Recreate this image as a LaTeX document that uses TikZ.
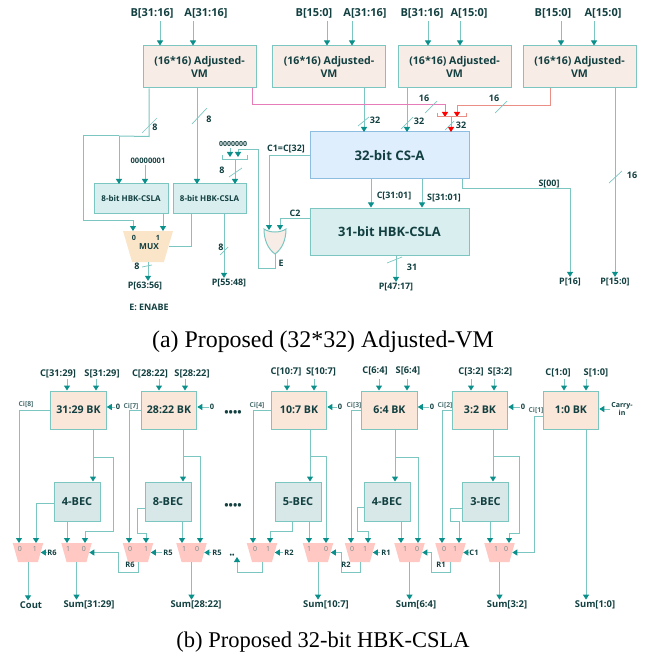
\documentclass[tikz,border=0pt]{standalone}
\usepackage{fontspec}
\setmainfont{Open Sans}
\newfontfamily\capfont{Liberation Serif}
\usetikzlibrary{arrows.meta, calc, shapes.geometric}
\definecolor{wireteal}{HTML}{7CC6C1}
\definecolor{tipteal}{HTML}{0B8F8A}
\definecolor{inkteal}{HTML}{123F40}
\definecolor{vmfill}{HTML}{F8ECE6}
\definecolor{bkfill}{HTML}{FBE6DA}
\definecolor{becfill}{HTML}{D8E8E8}
\definecolor{hbkfill}{HTML}{D9EEEF}
\definecolor{csfill}{HTML}{DEEEFD}
\definecolor{csline}{HTML}{8DBDE0}
\definecolor{muxfill}{HTML}{FBE5C8}
\definecolor{pinkfill}{HTML}{FFC8C3}
\definecolor{pinkwire}{HTML}{E77DB8}
\definecolor{redwire}{HTML}{E98F85}
\newcommand{\fsz}[1]{\fontsize{#1}{#1}\bfseries\selectfont}

\begin{document}
\begin{tikzpicture}[x=1pt, y=-1pt,
    wire/.style={draw=wireteal, line width=1pt},
    conn/.style={wire, -{Triangle[length=5pt,width=6pt,color=tipteal]}},
    redconn/.style={draw=redwire, line width=1pt, -{Triangle[length=5pt,width=6pt,color=red]}},
    busmark/.style={draw=wireteal, line width=0.7pt},
    lbl/.style={inner sep=1pt, text=inkteal, font=\fsz{8.9}},
    inlbl/.style={lbl, font=\fsz{11}},
    bottomlbl/.style={lbl, font=\fsz{9.4}},
    buslbl/.style={lbl, font=\fsz{9}},
    cilbl/.style={lbl, text=inkteal!75, font=\fsz{6.8}},
    bitlbl/.style={inner sep=0pt, text=inkteal!60, font=\fontsize{7}{7}\selectfont},
    vmbox/.style={draw=wireteal, fill=vmfill, line width=1pt, minimum width=113pt, minimum height=42pt,
      inner sep=0pt, text=inkteal, align=center, font=\fsz{10.6}},
    csbox/.style={draw=csline, fill=csfill, line width=1pt, minimum width=159pt, minimum height=47pt,
      text=inkteal, font=\fsz{13.2}},
    hbkbox/.style={draw=wireteal, fill=hbkfill, line width=1pt, inner sep=0pt, text=inkteal},
    bkbox/.style={draw=wireteal, fill=bkfill, line width=1pt, minimum width=55.5pt, minimum height=38pt,
      inner sep=0pt, text=inkteal, font=\fsz{10.6}},
    becbox/.style={draw=wireteal, fill=becfill, line width=1pt, minimum width=46pt, minimum height=39pt,
      inner sep=0pt, text=inkteal, font=\fsz{11}},
    bigmux/.style={trapezium, trapezium stretches=true, shape border rotate=180, trapezium angle=74,
      fill=muxfill, minimum width=50pt, minimum height=31pt, inner sep=1pt},
    smallmux/.style={trapezium, trapezium stretches=true, shape border rotate=180, trapezium angle=75,
      fill=pinkfill, minimum width=30.5pt, minimum height=19pt, inner sep=1pt}]
  \useasboundingbox (0,0) rectangle (644,660);

  % ---- (a) top row of multipliers
  \foreach \i/\x in {1/199.5, 2/329, 3/454.5, 4/579.5}
    \node[vmbox] (vm\i) at (\x,67) {(16*16) Adjusted-\\[1.5pt]VM};
  \foreach \i/\name/\x/\t/\px in {1/b/152/B[31:16]/160, 1/a/206/A[31:16]/193,
                                  2/b/314/B[15:0]/327, 2/a/365/A[31:16]/352,
                                  3/b/422/B[31:16]/428, 3/a/469/A[15:0]/460,
                                  4/b/553/B[15:0]/561, 4/a/603/A[15:0]/594} {
    \node[inlbl] (in\name\i) at (\x,13) {\t};
    \coordinate (pin\name\i) at (\px,21);
    \draw[conn] (pin\name\i) -- (pin\name\i |- vm\i.north);
  }

  % ---- (a) adders
  \node[csbox] (csa) at (389.5,155.5) {32-bit CS-A};
  \node[hbkbox, minimum width=159pt, minimum height=47pt, font=\fsz{12.9}] (hbk31) at (389.5,231.5) {31-bit HBK-CSLA};
  \node[hbkbox, minimum width=74pt, minimum height=29pt, font=\fsz{8}] (hbk8a) at (131,198.5) {8-bit HBK-CSLA};
  \node[hbkbox, minimum width=73pt, minimum height=29pt, font=\fsz{8}] (hbk8b) at (209.5,198.5) {8-bit HBK-CSLA};
  \node[bigmux] (mux) at (148,246.5) {};
  \node[lbl, font=\fsz{8.3}] (muxname) at (149,246.5) {MUX};
  \node[lbl, font=\fsz{7.2}] (muxzero) at (134,238) {0};
  \node[lbl, font=\fsz{7.2}] (muxone) at (158,238) {1};

  % or gate, E goes back to the constant
  \draw[draw=wireteal, fill=vmfill, line width=1pt] (264,229) .. controls (270,233) and (280,233) .. (286,229)
    .. controls (286,240) and (282,249) .. (275,254) .. controls (268,249) and (264,240) .. (264,229) -- cycle;
  \coordinate (orA) at (269,230);
  \coordinate (orB) at (280,230);
  \coordinate (orOut) at (275,254);

  % ---- (a) pins
  \coordinate (csP) at (364,132);
  \coordinate (csQ) at (407,132);
  \coordinate (csR) at (451,132);
  \coordinate (redA) at (445,117);
  \coordinate (redB) at (457,117);
  \coordinate (redC) at (451,117);
  \coordinate (j8) at (119,136);
  \coordinate (hbA) at (119,184);
  \coordinate (hbB) at (145,184);
  \coordinate (hbC) at (197,184);
  \coordinate (hbD) at (235,184);
  \coordinate (muxA) at (133,231);
  \coordinate (muxB) at (163,231);
  \coordinate (zeroA) at (230,157);
  \coordinate (zeroB) at (238,157);
  \coordinate (zeroC) at (238,150);
  \coordinate (brk) at (235,160);

  % ---- (a) connectors
  \draw[wire] ([xshift=-50.5pt]vm1.south) -- ++(0,48) -- (j8);
  \draw[conn] (j8) -- ++(-36,0) -- ++(0,84) -| (muxA);
  \draw[conn] (j8) -- (hbA);
  \draw[conn] (vm1.south -| hbC) -- (hbC);
  \draw[conn] (vm2.south -| csP) -- (csP);
  \draw[conn] (vm3.south -| csQ) -- (csQ);
  \draw[redconn, draw=pinkwire] ([xshift=52.5pt]vm1.south) -- ++(0,16) -| (redA);
  \draw[redconn] ([xshift=-29.5pt]vm4.south) -- ++(0,17) -| (redB);
  \draw[draw=redwire, line width=1pt] (437,113) |- (466,117) -- (466,113);
  \draw[redconn] (redC) -- (csR);
  \node[lbl] (p150) at (615,282) {P[15:0]};
  \draw[conn] ([xshift=35.5pt]vm4.south) -- (p150.north);

  \draw[conn] ([xshift=-18.5pt]csa.south) -- ([xshift=-18.5pt]hbk31.north);
  \draw[conn] ([xshift=32.5pt]csa.south) -- ([xshift=32.5pt]hbk31.north);
  \node[lbl] (c3101) at (394,196) {C[31:01]};
  \node[lbl] (s3101) at (444,198) {S[31:01]};
  \node[lbl] (p16) at (570,282) {P[16]};
  \draw[conn] ([xshift=72.5pt]csa.south) -- ++(0,9) -| (p16.north);
  \node[lbl] (s00) at (549,184) {S[00]};
  \node[lbl] (p4717) at (396,287) {P[47:17]};
  \draw[conn] ([xshift=6.5pt]hbk31.south) -- (p4717.north);
  \draw[conn] (csa.west) -| (orA);
  \draw[conn] ([yshift=13.5pt]hbk31.west) -| (orB);
  \node[lbl] (c1lbl) at (286,149) {C1=C[32]};
  \node[lbl] (c2lbl) at (295,213) {C2};
  \node[lbl] (elbl) at (281,263) {E};

  \node[lbl, font=\fsz{7.6}] (one8) at (148,161) {00000001};
  \draw[conn] (one8.south -| hbB) -- (hbB);
  \node[lbl, font=\fsz{7}] (zero7) at (233,144) {0000000};
  \draw[conn] (zero7.south -| zeroA) -- (zeroA);
  \draw[conn] (orOut) -- ++(0,14) -- ++(-17,0) |- (zeroC) -- (zeroB);
  \draw[wire] (222,155) |- (247,160) -- (247,155);
  \draw[conn] (brk) -- (hbD);

  \draw[conn] (hbk8a.south -| muxB) -- (muxB);
  \draw[wire] ([xshift=-18.5pt]hbk8b.south) |- (mux.east);
  \node[lbl] (p6356) at (145,286) {P[63:56]};
  \draw[conn] (mux.south) -- (p6356.north -| mux.south);
  \node[lbl] (p5548) at (229,283) {P[55:48]};
  \draw[conn] ([xshift=14.5pt]hbk8b.south) -- ([xshift=14.5pt]hbk8b.south |- p5548.north);
  \node[lbl] (enable) at (149,307) {E: ENABE};

  % bus marks + widths
  \draw[busmark] (142,133) -- (157,118);
  \node[buslbl] (w8a) at (155,127) {8};
  \draw[busmark] (192,124) -- (207,108);
  \node[buslbl] (w8b) at (209,119) {8};
  \draw[busmark] (425,113) -- (437,101);
  \node[buslbl] (w16a) at (424,98) {16};
  \draw[busmark] (495,113) -- (507,101);
  \node[buslbl] (w16b) at (494,98) {16};
  \draw[busmark] (358,126) -- (369,117);
  \node[buslbl] (w32a) at (375,120) {32};
  \draw[busmark] (401,129) -- (413,117);
  \node[buslbl] (w32b) at (419,121) {32};
  \draw[busmark] (445,130) -- (454,121);
  \node[buslbl] (w32c) at (461,125) {32};
  \draw[busmark] (609,183) -- (622,171);
  \node[buslbl] (w16c) at (632,175) {16};
  \draw[busmark] (387,263) -- (402,257);
  \node[buslbl] (w31) at (412,267) {31};
  \draw[busmark] (229,177) -- (242,168);
  \node[buslbl] (w8c) at (222,170) {8};
  \draw[busmark] (220,255) -- (228,247);
  \node[buslbl] (w8d) at (221,247) {8};
  \draw[busmark] (142,267) -- (152,265);
  \node[buslbl] (w8e) at (137,266) {8};

  \node[inner sep=0pt, font=\capfont\fontsize{23.9}{23.9}\selectfont] (capa) at (323,342) {(a) Proposed (32*32) Adjusted-VM};

  % ---- (b) carry blocks
  \foreach \i/\x/\t in {1/78.5/31:29, 2/169/28:22, 3/299/10:7, 4/389.5/6:4, 5/480/3:2, 6/571/1:0}
    \node[bkbox] (bk\i) at (\x,410) {\t\ BK};
  \foreach \i/\x/\t in {1/77/4, 2/168/8, 3/298/5, 4/387/4, 5/485.5/3}
    \node[becbox] (bec\i) at (\x,501.5) {\t-BEC};
  \foreach \i/\x in {1/28, 2/76.5, 3/138, 4/191.5, 5/262, 6/318, 7/360, 8/409.5, 9/450.5, 10/499.5}
    \node[smallmux] (mx\i) at (\x,552.5) {};
  \foreach \i/\l/\u/\m/\v in {1/0/20/1/35, 2/1/68/0/84, 3/0/130/1/146, 4/1/184/0/197, 5/0/255/1/268,
                              6/1/309/0/326, 7/0/352/1/365, 8/1/405/0/417, 9/0/444/1/455, 10/1/496/0/506} {
    \node[bitlbl] (bita\i) at (\u,549) {\l};
    \node[bitlbl] (bitb\i) at (\v,549) {\m};
  }
  % mux pins
  \foreach \i/\u/\v in {1/19/36, 2/67/85, 3/129/146, 4/182/200, 5/253/270, 6/309/326, 7/351/368,
                        8/401/418, 9/442/459, 10/490/509} {
    \coordinate (mxa\i) at (\u,543);
    \coordinate (mxb\i) at (\v,543);
  }

  % inputs C and S
  \foreach \i/\cl/\sl/\cx/\sx/\ct/\st/\ly in {1/58/102/67/96/C[31:29]/S[31:29]/374, 2/150/192/159/185/C[28:22]/S[28:22]/374,
      3/286/321/287/314/C[10:7]/S[10:7]/372, 4/375/408/379/407/C[6:4]/S[6:4]/371,
      5/471/500/471/494/C[3:2]/S[3:2]/372, 6/558/596/564/586/C[1:0]/S[1:0]/373} {
    \node[lbl, font=\fsz{9.3}] (lc\i) at (\cl,\ly) {\ct};
    \node[lbl, font=\fsz{9.3}] (ls\i) at (\sl,\ly) {\st};
    \coordinate (pc\i) at (\cx,379);
    \coordinate (ps\i) at (\sx,379);
    \draw[conn] (pc\i) -- (pc\i |- bk\i.north);
    \draw[conn] (ps\i) -- (ps\i |- bk\i.north);
  }

  % the constant 0 inputs
  \foreach \i/\x in {1/118, 2/212, 3/340, 4/432, 5/523} {
    \node[lbl, font=\fsz{7.5}] (nil\i) at (\x,407) {0};
    \draw[conn] (nil\i.west) -- (nil\i.west -| bk\i.east);
  }
  \node[lbl, font=\fsz{7}, align=center] (cin) at (622,409) {Carry-\\[0.5pt]in};
  \draw[conn] (cin.west) -- (cin.west -| bk6.east);

  % carries to the left muxes
  \foreach \i/\m/\t/\x/\y in {1/1/8/26/404, 2/3/7/131/406, 3/5/4/257/405, 4/7/3/354/405, 5/9/2/445/405} {
    \node[cilbl] (ci\i) at (\x,\y) {Ci[\t]};
    \draw[conn] (bk\i.west) -| (mxa\m);
  }
  \node[cilbl] (ci6) at (536,410) {Ci[1]};
  \draw[conn] ([yshift=-6pt]bk6.west) -- ++(-8,0) |- (mx10.east);

  % block -> bec, and round it to the mux
  \foreach \i/\x/\y in {1/93/457, 2/183/456, 3/310/456, 4/395/457, 5/493/456} {
    \coordinate (jn\i) at (\x,\y);
    \draw[wire] (jn\i |- bk\i.south) -- (jn\i);
    \draw[conn] (jn\i) -- (jn\i |- bec\i.north);
  }
  \draw[conn] (jn1) -- ++(20,0) -- ++(0,74) -| (mxb2);
  \draw[conn] (jn2) -| (mxb4);
  \draw[conn] (jn3) -| (mxb6);
  \draw[conn] (jn4) -| (mxb8);
  \draw[conn] (jn5) -- ++(26,0) -- ++(0,77) -| (mxb10);

  % bec -> muxes
  \draw[conn] ([yshift=-1.5pt]bec1.west) -| (mxb1);
  \draw[conn] (mxa2 |- bec1.south) -- (mxa2);
  \draw[conn] ([yshift=-6.5pt]bec2.west) -- ++(-7,0) -- ++(0,25) -| (mxb3);
  \draw[conn] (mxa4 |- bec2.south) -- (mxa4);
  \draw[conn] ([xshift=-6pt]bec3.south) -- ++(0,10) -| (mxb5);
  \draw[conn] (mxa6 |- bec3.south) -- (mxa6);
  \draw[conn] ([yshift=-5.5pt]bec4.west) -- ++(-6,0) -- ++(0,24) -| (mxb7);
  \draw[conn] (mxa8 |- bec4.south) -- (mxa8);
  \draw[conn] ([yshift=-6.5pt]bec5.west) -- ++(-12,0) -- ++(0,13) -| (mxb9);
  \draw[conn] (mxa10 |- bec5.south) -- (mxa10);

  % mux select lines
  \foreach \i/\t/\x in {1/R6/52, 3/R5/168, 4/R5/217, 5/R2/289, 7/R1/386, 9/C1/474} {
    \node[lbl, font=\fsz{7.5}] (sel\i) at (\x,552.5) {\t};
    \draw[conn] (sel\i.west) -- (mx\i.east);
  }
  \draw[conn] (mx3.south) -- ++(0,10) -- ++(-20,0) |- (mx2.east);
  \draw[conn] (mx7.south) -- ++(0,10) -- ++(-19,0) |- (mx6.east);
  \draw[conn] (mx9.south) -- ++(0,10) -- ++(-19.5,0) |- (mx8.east);
  \coordinate (dotin) at (237,557);
  \draw[conn] (mx5.south) -- ++(0,10) -| (dotin);
  \foreach \n/\t/\x in {a/R6/130, b/R2/346, c/R1/441}
    \node[lbl, font=\fsz{7.5}] (ret\n) at (\x,565) {\t};
  \node[lbl, font=\fsz{6.5}] (stars) at (232,556) {••};

  % outputs
  \foreach \i/\m/\t/\x in {1/2/Sum[31:29]/89, 2/4/Sum[28:22]/196, 3/6/Sum[10:7]/326, 4/8/Sum[6:4]/416, 5/10/Sum[3:2]/507} {
    \node[bottomlbl] (sum\i) at (\x,605) {\t};
    \draw[conn] (mx\m.south) -- (mx\m.south |- sum\i.north);
  }
  \node[bottomlbl] (sum6) at (595,605) {Sum[1:0]};
  \draw[conn] ([xshift=15pt]bk6.south) -- ([xshift=15pt]bk6.south |- sum6.north);
  \node[bottomlbl] (cout) at (31,605) {Cout};
  \draw[conn] (mx1.south) -- (mx1.south |- cout.north);

  \node[lbl, font=\fsz{11.5}] (dotsa) at (233,414) {••••};
  \node[lbl, font=\fsz{11.5}] (dotsb) at (233,507) {••••};

  \node[inner sep=0pt, font=\capfont\fontsize{22.5}{22.5}\selectfont] (capb) at (323,642) {(b) Proposed 32-bit HBK-CSLA};
\end{tikzpicture}
\end{document}
